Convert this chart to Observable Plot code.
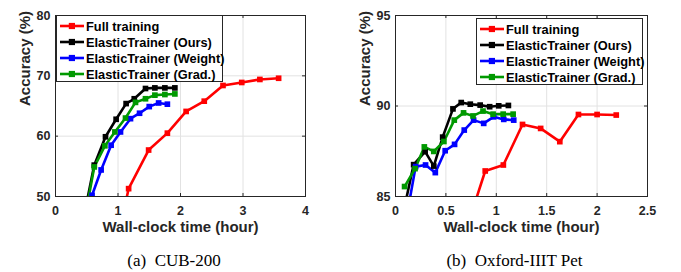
<!DOCTYPE html>
<html><head><meta charset="utf-8">
<script src="https://cdn.jsdelivr.net/npm/d3@7"></script>
<script src="https://cdn.jsdelivr.net/npm/@observablehq/plot@0.6"></script>
<style>
body{margin:0;background:#fff;}
#wrap{position:relative;width:681px;height:272px;overflow:hidden;font-family:"Liberation Sans",Arial,sans-serif;}
.panel{position:absolute;top:0;}
.legend{position:absolute;background:#fff;border:1px solid #262626;box-sizing:border-box;width:167px;height:67px;}
.entry{position:absolute;left:0;height:16px;display:flex;align-items:center;font-weight:bold;font-size:12.8px;color:#000;white-space:nowrap;}
.entry svg{margin-left:3px;margin-right:2px;}
.caption{position:absolute;font-family:"Liberation Serif","Times New Roman",serif;font-size:17px;line-height:20px;color:#000;white-space:nowrap;transform:translateX(-50%);}
</style></head><body><div id="wrap"></div>
<script>
const seriesNames = ["Full training", "ElasticTrainer (Ours)", "ElasticTrainer (Weight)", "ElasticTrainer (Grad.)"];
const seriesColors = ["#ff0000", "#000000", "#0000ff", "#009900"];
const xLabel = "Wall-clock time (hour)";
const yLabel = "Accuracy (%)";

// (a) CUB-200
const cubXTicks = [0, 1, 2, 3, 4];
const cubYTicks = [50, 60, 70, 80];
const cubFullX = [1.08, 1.17, 1.49, 1.79, 2.09, 2.38, 2.68, 2.98, 3.27, 3.57];
const cubFullY = [47, 51.3, 57.7, 60.5, 64.1, 65.8, 68.4, 68.9, 69.4, 69.6];
const cubOursX = [0.46, 0.62, 0.80, 0.97, 1.13, 1.26, 1.44, 1.59, 1.75, 1.91];
const cubOursY = [47, 55.2, 59.9, 62.8, 65.4, 66.2, 67.9, 68.0, 68.0, 68.0];
const cubWeightX = [0.585, 0.73, 0.89, 1.04, 1.20, 1.345, 1.50, 1.65, 1.79];
const cubWeightY = [50.2, 54.4, 58.5, 60.7, 62.9, 63.8, 64.9, 65.5, 65.3];
const cubGradX = [0.48, 0.62, 0.79, 0.95, 1.12, 1.28, 1.44, 1.59, 1.75, 1.91];
const cubGradY = [47, 54.9, 58.4, 60.7, 63.0, 65.6, 66.2, 66.8, 66.9, 67.0];

// (b) Oxford-IIIT Pet
const petXTicks = [0, 0.5, 1, 1.5, 2, 2.5];
const petYTicks = [85, 90, 95];
const petFullX = [0.75, 0.89, 1.07, 1.26, 1.44, 1.63, 1.815, 2.00, 2.19];
const petFullY = [84, 86.41, 86.74, 88.98, 88.76, 88.03, 89.53, 89.53, 89.50];
const petOursX = [0.073, 0.18, 0.294, 0.38, 0.468, 0.57, 0.652, 0.742, 0.84, 0.934, 1.024, 1.12];
const petOursY = [84, 86.76, 87.48, 86.68, 88.28, 89.84, 90.19, 90.10, 90.05, 89.96, 90.01, 90.03];
const petWeightX = [0.114, 0.2, 0.298, 0.395, 0.493, 0.586, 0.682, 0.775, 0.875, 0.974, 1.074, 1.173];
const petWeightY = [84, 86.65, 86.74, 86.32, 87.53, 87.88, 88.67, 89.22, 89.04, 89.40, 89.26, 89.22];
const petGradX = [0.09, 0.194, 0.286, 0.38, 0.48, 0.583, 0.675, 0.769, 0.868, 0.968, 1.068, 1.167];
const petGradY = [85.55, 86.54, 87.74, 87.49, 88.04, 89.22, 89.62, 89.45, 89.72, 89.55, 89.55, 89.55];

function rows(pairs) {
  const out = [];
  pairs.forEach(([xs, ys], i) => xs.forEach((x, j) => out.push({name: seriesNames[i], x, y: ys[j]})));
  return out;
}

function panel({data, width, marginRight, xDomain, yDomain, xTicks, yTicks, xFormat}) {
  const mt = 15, mb = 49, ml = 55, height = 245;
  const fw = width - ml - marginRight, fh = height - mt - mb;
  return Plot.plot({
    width, height, marginLeft: ml, marginRight, marginTop: mt, marginBottom: mb,
    style: {fontFamily: "'Liberation Sans', Arial, sans-serif", fontWeight: "bold", fontSize: "12.5px", color: "#262626", background: "transparent", overflow: "visible"},
    x: {domain: xDomain, ticks: xTicks, tickFormat: xFormat, tickSize: 0, tickPadding: 10, label: null},
    y: {domain: yDomain, ticks: yTicks, tickSize: 0, tickPadding: 5, label: null},
    color: {domain: seriesNames, range: seriesColors},
    marks: [
      Plot.ruleX(xTicks, {stroke: "#e2e2e2", strokeWidth: 1}),
      Plot.ruleY(yTicks, {stroke: "#e2e2e2", strokeWidth: 1}),
      Plot.ruleX(xTicks, {stroke: "#262626", insetTop: fh - 3}),
      Plot.ruleX(xTicks, {stroke: "#262626", insetBottom: fh - 3}),
      Plot.ruleY(yTicks, {stroke: "#262626", insetRight: fw - 3}),
      Plot.ruleY(yTicks, {stroke: "#262626", insetLeft: fw - 3}),
      Plot.line(data, {x: "x", y: "y", z: "name", stroke: "name", strokeWidth: 2.6, clip: true}),
      Plot.dot(data, {x: "x", y: "y", fill: "name", symbol: "square", r: 3.2, clip: true}),
      Plot.frame({stroke: "#262626", strokeWidth: 1}),
      Plot.text([xLabel], {frameAnchor: "bottom", dy: 35.5, fontSize: 15, fontWeight: "bold", fill: "#262626"}),
      Plot.text([yLabel], {frameAnchor: "left", dx: -30, rotate: -90, fontSize: 15, fontWeight: "bold", fill: "#262626"})
    ]
  });
}

function legend(left, top) {
  const box = document.createElement("div");
  box.className = "legend";
  box.style.left = left + "px";
  box.style.top = top + "px";
  seriesNames.forEach((name, i) => {
    const e = document.createElement("div");
    e.className = "entry";
    e.style.top = (2 + i * 16.1) + "px";
    const c = seriesColors[i];
    e.innerHTML = `<svg width="24" height="10"><line x1="0" x2="24" y1="5" y2="5" stroke="${c}" stroke-width="2.6"/><rect x="8.8" y="1.9" width="6.2" height="6.2" fill="${c}"/></svg><span>${name}</span>`;
    box.appendChild(e);
  });
  return box;
}

function caption(text, center) {
  const d = document.createElement("div");
  d.className = "caption";
  d.style.left = center + "px";
  d.style.top = "251px";
  d.innerHTML = text;
  return d;
}

const wrap = document.getElementById("wrap");

const left = panel({
  data: rows([[cubFullX, cubFullY], [cubOursX, cubOursY], [cubWeightX, cubWeightY], [cubGradX, cubGradY]]),
  width: 340, marginRight: 35, xDomain: [0, 4], yDomain: [50, 80], xTicks: cubXTicks, yTicks: cubYTicks,
  xFormat: d => String(d)
});
left.classList.add("panel");
left.style.left = "0px";
wrap.appendChild(left);

const right = panel({
  data: rows([[petFullX, petFullY], [petOursX, petOursY], [petWeightX, petWeightY], [petGradX, petGradY]]),
  width: 341, marginRight: 34, xDomain: [0, 2.5], yDomain: [85, 95], xTicks: petXTicks, yTicks: petYTicks,
  xFormat: d => String(d)
});
right.classList.add("panel");
right.style.left = "340px";
wrap.appendChild(right);

wrap.appendChild(legend(56, 15));
wrap.appendChild(legend(476, 18));
wrap.appendChild(caption("(a)&nbsp; CUB-200", 174));
wrap.appendChild(caption("(b)&nbsp; Oxford-IIIT Pet", 514.5));
</script></body></html>
